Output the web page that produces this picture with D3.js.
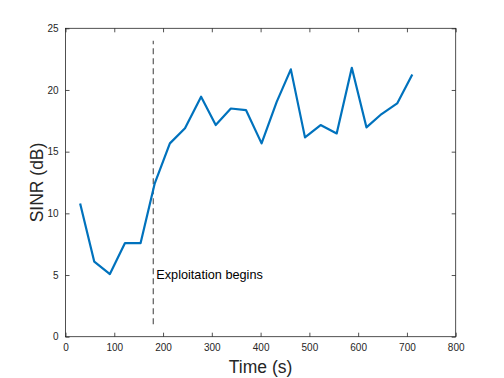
<!DOCTYPE html>
<html>
<head>
<meta charset="utf-8">
<script src="https://cdn.jsdelivr.net/npm/d3@7"></script>
<style>
  body { margin: 0; background: #fff; }
  text { font-family: "Liberation Sans", Arial, sans-serif; }
</style>
</head>
<body>
<div id="chart"></div>
<script>
// SINR over time
const timeS = [30, 59, 91, 122, 154, 183, 214, 245, 278, 308, 339, 370, 402,
               433, 462, 491, 523, 556, 587, 617, 648, 680, 711];
const sinrDb = [10.8, 6.08, 5.08, 7.59, 7.59, 12.43, 15.67, 16.89, 19.45, 17.16, 18.5, 18.37, 15.67,
                19.04, 21.67, 16.16, 17.16, 16.48, 21.8, 16.97, 18.05, 18.91, 21.26];
const xTicks = [0, 100, 200, 300, 400, 500, 600, 700, 800];
const yTicks = [0, 5, 10, 15, 20, 25];
const markerTime = 180;
const markerRange = [1, 24];
const markerLabel = "Exploitation begins";

const width = 504, height = 378;
const margin = {left: 65.5, right: 48.3, top: 28.3, bottom: 41.3};

const svg = d3.select("#chart").append("svg")
  .attr("width", width)
  .attr("height", height);

const x = d3.scaleLinear().domain([0, 800]).range([margin.left, width - margin.right]);
const y = d3.scaleLinear().domain([0, 25]).range([height - margin.bottom, margin.top]);

const axisColor = "#262626";
const tickLen = 4;

// box
svg.append("rect")
  .attr("x", x(0)).attr("y", y(25))
  .attr("width", x(800) - x(0)).attr("height", y(0) - y(25))
  .attr("fill", "none").attr("stroke", axisColor).attr("stroke-width", 0.8);

// ticks inward (bottom/top, left/right)
function addAxis(axis, transform) {
  const g = svg.append("g").attr("transform", transform).call(axis);
  g.select(".domain").remove();
  g.selectAll(".tick line").attr("stroke", axisColor).attr("stroke-width", 0.8);
  g.selectAll(".tick text").attr("fill", axisColor).style("font-size", "10px");
  return g;
}

addAxis(d3.axisBottom(x).tickValues(xTicks).tickSizeInner(-tickLen).tickPadding(7).tickFormat(d3.format("d")),
  `translate(0,${y(0)})`);
addAxis(d3.axisTop(x).tickValues(xTicks).tickSizeInner(-tickLen).tickFormat(""),
  `translate(0,${y(25)})`);
addAxis(d3.axisLeft(y).tickValues(yTicks).tickSizeInner(-tickLen).tickPadding(7).tickFormat(d3.format("d")),
  `translate(${x(0)},0)`);
addAxis(d3.axisRight(y).tickValues(yTicks).tickSizeInner(-tickLen).tickFormat(""),
  `translate(${x(800)},0)`);

// dashed marker
svg.append("line")
  .attr("x1", x(markerTime)).attr("x2", x(markerTime))
  .attr("y1", y(markerRange[0])).attr("y2", y(markerRange[1]))
  .attr("stroke", "#666").attr("stroke-width", 1.3)
  .attr("stroke-dasharray", "6,4");

svg.append("text")
  .attr("x", x(markerTime) + 3)
  .attr("y", y(5))
  .attr("dy", "0.35em")
  .attr("fill", "#000")
  .style("font-size", "12.7px")
  .text(markerLabel);

// series
const pts = timeS.map((t, i) => [t, sinrDb[i]]);
svg.append("path")
  .datum(pts)
  .attr("fill", "none")
  .attr("stroke", "#0072BD")
  .attr("stroke-width", 2.2)
  .attr("stroke-linejoin", "round")
  .attr("d", d3.line().x(d => x(d[0])).y(d => y(d[1])));

// axis labels
svg.append("text")
  .attr("x", (x(0) + x(800)) / 2)
  .attr("y", 373)
  .attr("text-anchor", "middle")
  .attr("fill", axisColor)
  .style("font-size", "17.5px")
  .text("Time (s)");

svg.append("text")
  .attr("transform", `translate(43,${(y(0) + y(25)) / 2}) rotate(-90)`)
  .attr("text-anchor", "middle")
  .attr("fill", axisColor)
  .style("font-size", "17.5px")
  .text("SINR (dB)");
</script>
</body>
</html>
